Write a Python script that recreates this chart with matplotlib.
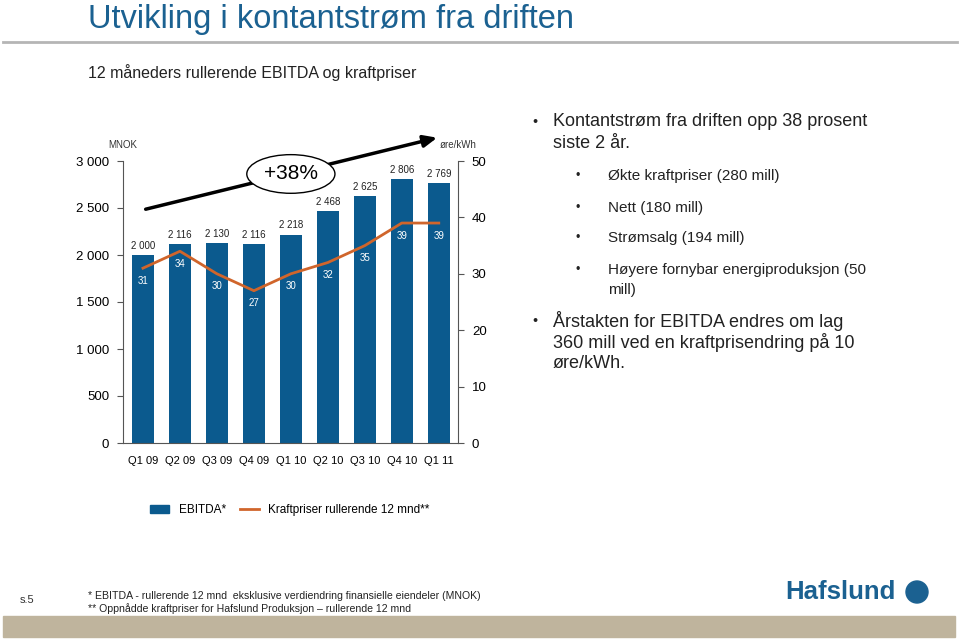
import matplotlib.pyplot as plt
from matplotlib.patches import Rectangle, Ellipse
from matplotlib.lines import Line2D

plt.rcParams['font.family'] = ['Liberation Sans', 'DejaVu Sans']

# data
kvartaler = ["Q1 09", "Q2 09", "Q3 09", "Q4 09", "Q1 10", "Q2 10", "Q3 10", "Q4 10", "Q1 11"]
ebitda = [2000, 2116, 2130, 2116, 2218, 2468, 2625, 2806, 2769]
kraftpriser = [31, 34, 30, 27, 30, 32, 35, 39, 39]

bla = "#0b5a8e"
oransje = "#d0652b"
tittelfarge = "#1b6191"

fig = plt.figure(figsize=(9.6, 6.4), dpi=100)

# topptekst
fig.text(88 / 960, 1 - 28 / 640, "Utvikling i kontantstrøm fra driften", fontsize=23.5,
         color=tittelfarge, va="baseline", ha="left")
fig.add_artist(Line2D([3 / 960, 957 / 960], [1 - 42 / 640, 1 - 42 / 640], color="#b5b5b5", lw=2))
fig.text(88 / 960, 1 - 73 / 640, "12 måneders rullerende EBITDA og kraftpriser", fontsize=11.5,
         color="#222222", va="center", ha="left")

# diagram
ax = fig.add_axes([123 / 960, 1 - 443 / 640, 335 / 960, 282 / 640])
x = list(range(len(kvartaler)))
ax.bar(x, ebitda, width=0.6, color=bla, zorder=2)
ax.set_xlim(-0.54, 8.52)
ax.set_ylim(0, 3000)
ax.set_yticks([0, 500, 1000, 1500, 2000, 2500, 3000])
ax.set_yticklabels(["0", "500", "1 000", "1 500", "2 000", "2 500", "3 000"], fontsize=9.5)
ax.set_xticks(x)
ax.set_xticklabels(kvartaler, fontsize=8)
ax.tick_params(axis="x", length=0, pad=9)
ax.tick_params(axis="y", length=4, color="#555555", pad=6)
for s in ["top", "right"]:
    ax.spines[s].set_visible(False)
ax.spines["left"].set_color("#555555")
ax.spines["bottom"].set_color("#555555")

for xi, v in zip(x, ebitda):
    ax.annotate(f"{v:,}".replace(",", " "), (xi, v), xytext=(0, 3), textcoords="offset points",
                ha="center", va="bottom", fontsize=7, color="#222222")

ax2 = ax.twinx()
ax2.set_ylim(0, 50)
ax2.set_yticks([0, 10, 20, 30, 40, 50])
ax2.tick_params(axis="y", length=4, color="#555555", labelsize=9.5, pad=6)
ax2.plot(x, kraftpriser, color=oransje, lw=2, zorder=3)
for s in ["top", "left", "bottom"]:
    ax2.spines[s].set_visible(False)
ax2.spines["right"].set_color("#555555")
for xi, v in zip(x, kraftpriser):
    ax2.annotate(str(v), (xi, v), xytext=(0, -9), textcoords="offset points",
                 ha="center", va="center", fontsize=7, color="white")

# pil og +38%
ax.annotate("", xy=(8.03, 3255), xytext=(0, 2480),
            arrowprops=dict(arrowstyle="-|>,head_length=0.8,head_width=0.35", color="black", lw=2.5),
            annotation_clip=False)
ax.text(4.0, 2862, "+38%", fontsize=15, ha="center", va="center", zorder=5,
        bbox=dict(boxstyle="ellipse,pad=0.2", fc="white", ec="black", lw=1))

fig.text(123 / 960, 1 - 145 / 640, "MNOK", fontsize=7, ha="center", va="center", color="#333333")
fig.text(458 / 960, 1 - 145 / 640, "øre/kWh", fontsize=7, ha="center", va="center", color="#333333")

# tegnforklaring
fig.legend(handles=[Rectangle((0, 0), 1, 1, color=bla),
                    Line2D([0], [0], color=oransje, lw=2)],
           labels=["EBITDA*", "Kraftpriser rullerende 12 mnd**"],
           loc="center", bbox_to_anchor=(290 / 960, 1 - 510 / 640), ncol=2, frameon=False,
           fontsize=8.5, handlelength=1.6, columnspacing=1.2)

# punktliste
tekster = [
    (535, 553, 122, "Kontantstrøm fra driften opp 38 prosent", 13, True),
    (535, 553, 143, "siste 2 år.", 13, False),
    (578, 608, 176, "Økte kraftpriser (280 mill)", 11, True),
    (578, 608, 208, "Nett (180 mill)", 11, True),
    (578, 608, 238, "Strømsalg (194 mill)", 11, True),
    (578, 608, 270, "Høyere fornybar energiproduksjon (50", 11, True),
    (578, 608, 290, "mill)", 11, False),
    (535, 553, 321, "Årstakten for EBITDA endres om lag", 13, True),
    (535, 553, 343, "360 mill ved en kraftprisendring på 10", 13, False),
    (535, 553, 364, "øre/kWh.", 13, False),
]
for bx, tx, ty, t, fs, kule in tekster:
    if kule:
        fig.text(bx / 960, 1 - ty / 640, "•", fontsize=fs * 0.8, ha="center", va="center", color="#222222")
    fig.text(tx / 960, 1 - ty / 640, t, fontsize=fs, ha="left", va="center", color="#222222")

# bunntekst
fig.text(20 / 960, 1 - 600 / 640, "s.5", fontsize=8, ha="left", va="center", color="#333333")
fig.text(88 / 960, 1 - 596 / 640, "* EBITDA - rullerende 12 mnd  eksklusive verdiendring finansielle eiendeler (MNOK)",
         fontsize=7.6, ha="left", va="center", color="#222222")
fig.text(88 / 960, 1 - 609 / 640, "** Oppnådde kraftpriser for Hafslund Produksjon – rullerende 12 mnd",
         fontsize=7.6, ha="left", va="center", color="#222222")
fig.text(785 / 960, 1 - 592 / 640, "Hafslund", fontsize=18.5, fontweight="bold", ha="left", va="center",
         color=tittelfarge)
fig.add_artist(Ellipse((917 / 960, 1 - 592 / 640), 22 / 960, 22 / 640, transform=fig.transFigure,
                       color=tittelfarge))
fig.add_artist(Rectangle((3 / 960, 1 - 637 / 640), 952 / 960, 21 / 640, transform=fig.transFigure,
                         color="#bfb49d"))

fig.savefig("out.png", dpi=100)
